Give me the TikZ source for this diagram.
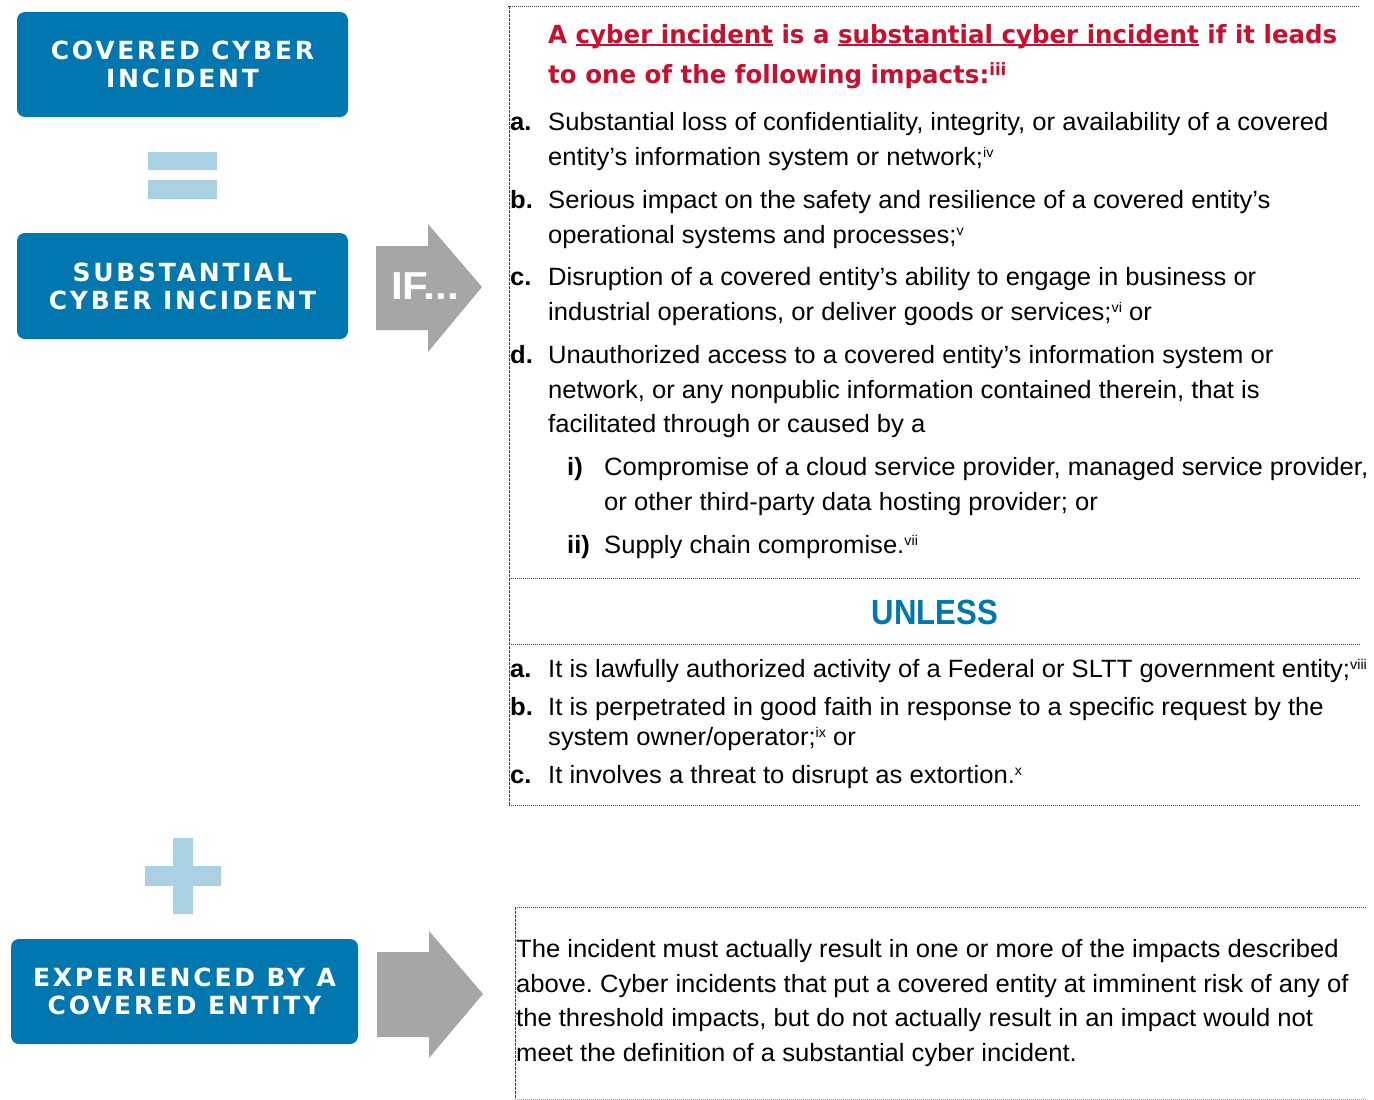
\documentclass[tikz,border=0pt]{standalone}
\usepackage{fontspec}
\usepackage{tikz}
\usetikzlibrary{positioning}
\setmainfont{Liberation Sans}
\newfontfamily\torzs{Liberation Sans}[FakeStretch=1.024]
\newfontfamily\cimbetu{DejaVu Sans}[FakeStretch=0.98]
\newfontfamily\unlessbetu{Liberation Sans}[FakeStretch=0.89]
\newfontfamily\habetu{Liberation Sans}[FakeStretch=1.08]
\newfontfamily\dobbetu{DejaVu Sans}[LetterSpace=11]
\frenchspacing
\definecolor{kek}{HTML}{0077AF}
\definecolor{halvany}{HTML}{A9D1E3}
\definecolor{szurke}{HTML}{A6A6A6}
\definecolor{piros}{HTML}{C8102E}
\newcommand{\alahuz}[1]{\leavevmode\setbox0\hbox{#1}\rlap{\rule[-3pt]{\wd0}{1.8pt}}\box0\relax}
\newcommand{\felso}[2][14]{\raisebox{8pt}{\fontsize{#1}{#1}\selectfont #2}}
\tikzset{
  kekdob/.style={fill=kek,rounded corners=8pt,text=white,align=center,inner sep=0pt,
    font=\dobbetu\bfseries\fontsize{25}{28}\selectfont},
  jel/.style={fill=halvany},
  nyilalak/.style={fill=szurke},
  sor/.style={anchor=base west,inner sep=0pt,font=\torzs\fontsize{25}{30}\selectfont},
  betu/.style={sor,font=\torzs\bfseries\fontsize{25}{30}\selectfont},
  cim/.style={anchor=base west,inner sep=0pt,text=piros,font=\cimbetu\bfseries\fontsize{25}{30}\selectfont},
  pontvonal/.style={draw=black!75,line width=1pt,dash pattern=on 1pt off 1pt},
  szagg/.style={draw=black!75,line width=1pt,dash pattern=on 3pt off 1pt},
}

\begin{document}
\begin{tikzpicture}[x=1pt,y=-1pt]
  \useasboundingbox (0,0) rectangle (1374,1100);
  % bal oldali dobozok
  \node[kekdob,minimum width=331pt,minimum height=105pt] (fedett) at (182.5,64.5) {COVERED CYBER\\INCIDENT};
  \node[kekdob,minimum width=331pt,minimum height=106pt] (jelentos) at (182.5,286) {SUBSTANTIAL\\CYBER INCIDENT};
  \node[kekdob,minimum width=347pt,minimum height=105pt] (erintett) at (184.5,991.5) {EXPERIENCED BY A\\COVERED ENTITY};
  \fill[jel] (148,152) rectangle (217,170) (148,180) rectangle (217,199);
  \fill[jel] (173,838) rectangle (193,914) (145,866) rectangle (221,886);
  \fill[nyilalak] (376,246) -- (428,246) -- (428,224) -- (482,287) -- (428,352) -- (428,330) -- (376,330) -- cycle;
  \fill[nyilalak] (377,952) -- (429,952) -- (429,931) -- (483,994) -- (429,1058) -- (429,1037) -- (377,1037) -- cycle;
  \node[anchor=base,inner sep=0pt,text=white,font=\habetu\bfseries\fontsize{39}{40}\selectfont] (ha) at (425,299) {IF...};

  % keretek
  \draw[pontvonal] (508,6) -- (1360,6);
  \draw[szagg] (509,6) -- (509,805);
  \draw[pontvonal] (509,578) -- (1360,578);
  \draw[pontvonal] (509,644) -- (1360,644);
  \draw[pontvonal] (509,805) -- (1360,805);
  \draw[pontvonal] (515,907) -- (1367,907);
  \draw[szagg] (515,907) -- (515,1099);
  \draw[pontvonal,draw=black!40] (515,1099) -- (1367,1099);

  % feltetelek
  \node[cim] (cim1) at (548,43) {A \alahuz{cyber incident} is a \alahuz{substantial cyber incident} if it leads};
  \node[cim] (cim2) at (548,83) {to one of the following impacts:\felso[17]{iii}};
  \node[betu] (la) at (510,130) {a.};
  \node[sor] (a1) at (548,130) {Substantial loss of confidentiality, integrity, or availability of a covered};
  \node[sor] (a2) at (548,165) {entity’s information system or network;\felso{iv}};
  \node[betu] (lb) at (510,208) {b.};
  \node[sor] (b1) at (548,208) {Serious impact on the safety and resilience of a covered entity’s};
  \node[sor] (b2) at (548,243) {operational systems and processes;\felso{v}};
  \node[betu] (lc) at (510,285) {c.};
  \node[sor] (c1) at (548,285) {Disruption of a covered entity’s ability to engage in business or};
  \node[sor] (c2) at (548,320) {industrial operations, or deliver goods or services;\felso{vi} or};
  \node[betu] (ld) at (510,363) {d.};
  \node[sor] (d1) at (548,363) {Unauthorized access to a covered entity’s information system or};
  \node[sor] (d2) at (548,398) {network, or any nonpublic information contained therein, that is};
  \node[sor] (d3) at (548,432) {facilitated through or caused by a};
  \node[betu] (li) at (567,475) {i)};
  \node[sor] (i1) at (604,475) {Compromise of a cloud service provider, managed service provider,};
  \node[sor] (i2) at (604,510) {or other third-party data hosting provider; or};
  \node[betu] (lii) at (567,553) {ii)};
  \node[sor] (ii1) at (604,553) {Supply chain compromise.\felso{vii}};

  \node[anchor=base,inner sep=0pt,text=kek,font=\unlessbetu\bfseries\fontsize{35}{40}\selectfont] (unless) at (935,624) {UNLESS};

  \node[betu] (lua) at (510,677) {a.};
  \node[sor] (ua) at (548,677) {It is lawfully authorized activity of a Federal or SLTT government entity;\felso{viii}};
  \node[betu] (lub) at (510,715) {b.};
  \node[sor] (ub1) at (548,715) {It is perpetrated in good faith in response to a specific request by the};
  \node[sor] (ub2) at (548,745) {system owner/operator;\felso{ix} or};
  \node[betu] (luc) at (510,783) {c.};
  \node[sor] (uc) at (548,783) {It involves a threat to disrupt as extortion.\felso{x}};

  \node[sor] (v1) at (516,957) {The incident must actually result in one or more of the impacts described};
  \node[sor] (v2) at (516,992) {above. Cyber incidents that put a covered entity at imminent risk of any of};
  \node[sor] (v3) at (516,1026) {the threshold impacts, but do not actually result in an impact would not};
  \node[sor] (v4) at (516,1061) {meet the definition of a substantial cyber incident.};
\end{tikzpicture}
\end{document}
